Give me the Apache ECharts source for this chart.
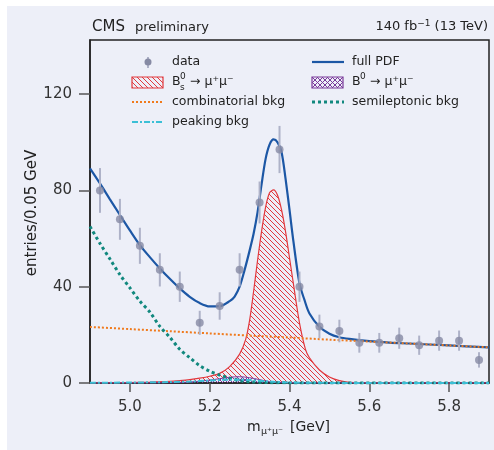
<!DOCTYPE html>
<html>
<head>
<meta charset="utf-8">
<script src="https://cdn.jsdelivr.net/npm/echarts@6.0.0/dist/echarts.min.js"></script>
<style>
  body { margin: 0; background: #fff; }
  #panel { position: absolute; left: 7px; top: 6px; width: 487px; height: 444px; background: #edeff8; }
  #chart { position: absolute; left: 0; top: 0; width: 494px; height: 450px; }
</style>
</head>
<body>
<div id="panel"></div>
<div id="chart"></div>
<script>
// binned data (bin centres, entries, errors)
const massBins = [4.925, 4.975, 5.025, 5.075, 5.125, 5.175, 5.225, 5.275, 5.325, 5.375,
                  5.425, 5.475, 5.525, 5.575, 5.625, 5.675, 5.725, 5.775, 5.825, 5.875];
const entries = [80, 68, 57, 47, 40, 25, 32, 47, 75, 97, 40, 23.5, 21.6, 16.7, 16.7, 18.6, 15.7, 17.6, 17.6, 9.6];
const entryErr = [9.3, 8.5, 7.5, 6.9, 6.3, 5.0, 5.7, 6.9, 8.7, 9.8, 6.3, 4.9, 4.7, 4.1, 4.1, 4.4, 4.0, 4.2, 4.2, 3.2];

// fit components: [mass, value]
const fullPdf = [[4.9, 89.2], [4.925, 82.9], [4.95, 76.3], [4.975, 69.8], [5.0, 63.4], [5.025, 57.3],
  [5.05, 52.3], [5.075, 47.6], [5.1, 43.3], [5.125, 39.3], [5.15, 35.8], [5.175, 33.2], [5.2, 31.8],
  [5.225, 31.9], [5.25, 34], [5.2625, 35.9], [5.275, 40], [5.2875, 47], [5.3, 55], [5.31, 62],
  [5.32, 71], [5.33, 82.5], [5.34, 93], [5.35, 99], [5.36, 101.2], [5.37, 100], [5.38, 96],
  [5.39, 85], [5.4, 72], [5.41, 58.6], [5.425, 41.4], [5.4375, 34.5], [5.45, 28.9], [5.475, 23.4],
  [5.5, 20.5], [5.525, 19.0], [5.55, 18.3], [5.6, 17.4], [5.65, 16.8], [5.7, 16.4], [5.8, 15.6], [5.9, 14.8]];
const signalBs = [[4.9, 0], [4.95, 0.1], [5.0, 0.2], [5.05, 0.4], [5.1, 0.7], [5.125, 1.0], [5.15, 1.4],
  [5.175, 2.0], [5.2, 2.8], [5.225, 4.0], [5.25, 6.8], [5.275, 12], [5.29, 18], [5.3, 26], [5.31, 38],
  [5.32, 51], [5.33, 63], [5.34, 73], [5.35, 79], [5.36, 80.2], [5.37, 78], [5.38, 72], [5.39, 63],
  [5.4, 52], [5.41, 41], [5.425, 25], [5.44, 14], [5.45, 10.5], [5.475, 5.4], [5.5, 2.5], [5.525, 1.0],
  [5.55, 0.3], [5.6, 0], [5.9, 0]];
const signalB0 = [[4.9, 0], [5.1, 0.1], [5.15, 0.4], [5.2, 1.2], [5.225, 1.8], [5.25, 2.4], [5.275, 2.6],
  [5.3, 2.2], [5.325, 1.4], [5.35, 0.6], [5.4, 0.1], [5.45, 0], [5.9, 0]];
const combBkg = [[4.9, 23.3], [5.0, 22.4], [5.1, 21.5], [5.2, 20.6], [5.3, 19.7], [5.4, 18.9],
  [5.5, 18.0], [5.6, 17.2], [5.7, 16.4], [5.8, 15.6], [5.9, 14.8]];
const semilepBkg = [[4.9, 65], [4.925, 58], [4.95, 51.5], [4.975, 45], [5.0, 39.5], [5.025, 34],
  [5.05, 29.5], [5.075, 23.5], [5.1, 19], [5.125, 14], [5.15, 10.5], [5.175, 7.2], [5.2, 4.9],
  [5.225, 3.3], [5.25, 2.0], [5.275, 1.0], [5.3, 0.5], [5.35, 0.15], [5.4, 0.05], [5.9, 0]];
const peakingBkg = [[4.9, 0.1], [5.0, 0.2], [5.1, 0.4], [5.15, 0.6], [5.2, 1.0], [5.25, 1.4],
  [5.275, 1.4], [5.3, 1.2], [5.35, 0.6], [5.4, 0.2], [5.5, 0.05], [5.9, 0]];

const xTicks = [5.0, 5.2, 5.4, 5.6, 5.8];
const yTicks = [0, 40, 80, 120];

const FONT = '"DejaVu Sans", sans-serif';
const RED = '#e2383d', PURPLE = '#7a3a9a', BLUE = '#1c57a5', ORANGE = '#f07a1c', TEAL = '#11887e', CYAN = '#3bbfd6';
const PTS = '#868aa4', ERR = '#aeb2c8';

function hatch(color, cross) {
  const c = document.createElement('canvas');
  c.width = 5; c.height = 5;
  const g = c.getContext('2d');
  g.strokeStyle = color;
  g.lineWidth = 1;
  g.beginPath();
  g.moveTo(-1, -1); g.lineTo(6, 6);
  g.moveTo(-1, 4); g.lineTo(1, 6);
  g.moveTo(4, -1); g.lineTo(6, 1);
  if (cross) {
    g.moveTo(6, -1); g.lineTo(-1, 6);
    g.moveTo(1, -1); g.lineTo(-1, 1);
    g.moveTo(6, 4); g.lineTo(4, 6);
  }
  g.stroke();
  return c;
}
const redPattern = {image: hatch(RED, false), repeat: 'repeat'};
const purplePattern = {image: hatch(PURPLE, true), repeat: 'repeat'};

function txt(x, y, text, size, extra) {
  return {
    type: 'text', x: x, y: y, z: 10,
    style: Object.assign({text: text, font: size + 'px ' + FONT, fill: '#222', textVerticalAlign: 'middle'}, extra || {})
  };
}
function legLine(x, y, color, width, dash) {
  return {type: 'line', z: 10, shape: {x1: x, y1: y, x2: x + 32, y2: y},
    style: {stroke: color, lineWidth: width, lineDash: dash}};
}

const chart = echarts.init(document.getElementById('chart'));

const option = {
  animation: false,
  backgroundColor: 'transparent',
  grid: {left: 90, right: 5, top: 40, bottom: 67, show: true, borderColor: '#222', borderWidth: 1.5, backgroundColor: 'transparent'},
  xAxis: {
    type: 'value', min: 4.9, max: 5.9,
    axisLine: {lineStyle: {color: '#222', width: 1.5}},
    axisTick: {customValues: xTicks, length: 9, lineStyle: {color: '#555', width: 1.5}},
    axisLabel: {customValues: xTicks, formatter: v => v.toFixed(1), fontSize: 15, fontFamily: FONT, color: '#333', margin: 17},
    splitLine: {show: false}
  },
  yAxis: {
    type: 'value', min: 0, max: 142.5,
    axisLine: {lineStyle: {color: '#222', width: 1.5}},
    axisTick: {customValues: yTicks, length: 11, lineStyle: {color: '#555', width: 1.5}},
    axisLabel: {customValues: yTicks, fontSize: 15, fontFamily: FONT, color: '#333', margin: 18},
    splitLine: {show: false}
  },
  series: [
    {name: 'Bs', type: 'line', data: signalBs, smooth: 0.3, symbol: 'none', z: 2,
      lineStyle: {color: RED, width: 1.2}, areaStyle: {color: redPattern, opacity: 1}},
    {name: 'B0', type: 'line', data: signalB0, smooth: 0.3, symbol: 'none', z: 3,
      lineStyle: {color: PURPLE, width: 1}, areaStyle: {color: purplePattern, opacity: 1}},
    {name: 'full PDF', type: 'line', data: fullPdf, smooth: 0.3, symbol: 'none', z: 4,
      lineStyle: {color: BLUE, width: 2.2}},
    {name: 'combinatorial bkg', type: 'line', data: combBkg, smooth: 0.3, symbol: 'none', z: 5,
      lineStyle: {color: ORANGE, width: 2, type: [2, 2]}},
    {name: 'semileptonic bkg', type: 'line', data: semilepBkg, smooth: 0.3, symbol: 'none', z: 5,
      lineStyle: {color: TEAL, width: 3, type: [3, 3]}},
    {name: 'peaking bkg', type: 'line', data: peakingBkg, smooth: 0.3, symbol: 'none', z: 5,
      lineStyle: {color: CYAN, width: 2, type: [6, 2, 2, 2]}},
    {name: 'errors', type: 'custom', z: 6,
      data: massBins.map((m, i) => [m, entries[i], entryErr[i]]),
      encode: {x: 0, y: 1},
      renderItem: function (params, api) {
        const lo = api.coord([api.value(0), api.value(1) - api.value(2)]);
        const hi = api.coord([api.value(0), api.value(1) + api.value(2)]);
        return {type: 'line', shape: {x1: lo[0], y1: lo[1], x2: hi[0], y2: hi[1]},
          style: {stroke: ERR, lineWidth: 2}};
      }},
    {name: 'data', type: 'scatter', z: 7, symbolSize: 8,
      data: massBins.map((m, i) => [m, entries[i]]),
      itemStyle: {color: PTS}}
  ],
  graphic: [
    txt(92, 27, 'CMS', 15),
    txt(135, 28, 'preliminary', 13),
    {type: 'text', right: 6, top: 19, z: 10,
      style: {text: '140 fb{sup|−1} (13 TeV)', font: '13px ' + FONT, fill: '#222',
        rich: {sup: {fontSize: 9, fontFamily: 'DejaVu Sans', verticalAlign: 'top', padding: [0, 0, 6, 0]}}}},
    // legend column 1
    {type: 'line', z: 10, shape: {x1: 148, y1: 57, x2: 148, y2: 68}, style: {stroke: ERR, lineWidth: 2}},
    {type: 'circle', z: 10, shape: {cx: 148, cy: 62, r: 3.5}, style: {fill: PTS}},
    txt(172, 62, 'data', 12.5),
    {type: 'rect', z: 10, shape: {x: 132, y: 77, width: 31, height: 11}, style: {fill: redPattern, stroke: RED, lineWidth: 1.2}},
    txt(172, 82, 'B', 12.5),
    txt(180, 77, '0', 9),
    txt(180, 88, 's', 9),
    txt(190, 82, '→ μ⁺μ⁻', 12.5),
    legLine(132, 102, ORANGE, 2, [2, 2]),
    txt(172, 102, 'combinatorial bkg', 12.5),
    legLine(132, 122, CYAN, 2, [6, 2, 2, 2]),
    txt(172, 122, 'peaking bkg', 12.5),
    // legend column 2
    legLine(312, 62, BLUE, 2.2),
    txt(352, 62, 'full PDF', 12.5),
    {type: 'rect', z: 10, shape: {x: 312, y: 77, width: 31, height: 11}, style: {fill: purplePattern, stroke: PURPLE, lineWidth: 1.2}},
    txt(352, 82, 'B', 12.5),
    txt(360, 77, '0', 9),
    txt(370, 82, '→ μ⁺μ⁻', 12.5),
    legLine(312, 102, TEAL, 3, [3, 3]),
    txt(352, 102, 'semileptonic bkg', 12.5),
    // axis titles
    txt(247, 427, 'm', 14),
    txt(261, 432, 'μ⁺μ⁻', 9.5),
    txt(290, 427, '[GeV]', 14),
    {type: 'text', x: 32, y: 213, rotation: Math.PI / 2, z: 10,
      style: {text: 'entries/0.05 GeV', font: '15px ' + FONT, fill: '#222', textAlign: 'center', textVerticalAlign: 'middle'}}
  ]
};

chart.setOption(option);
</script>
</body>
</html>
